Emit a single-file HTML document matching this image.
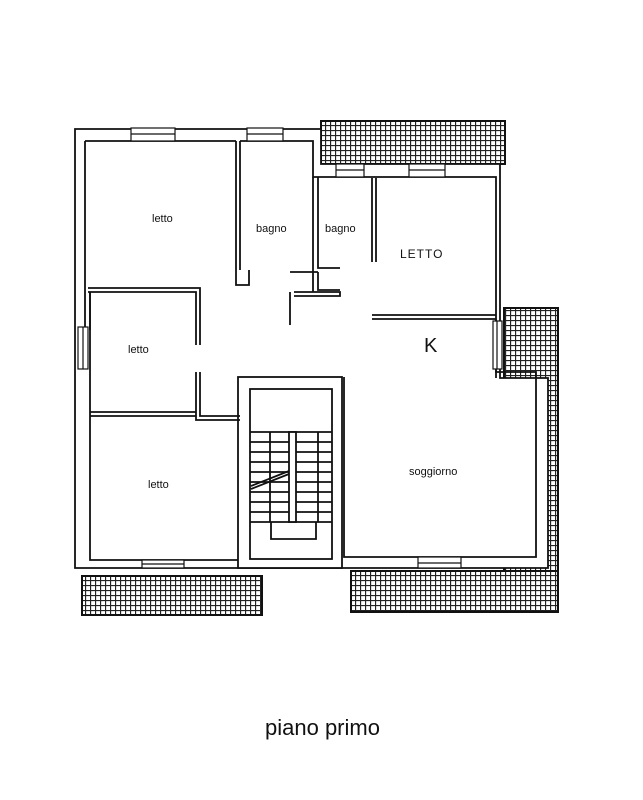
<!DOCTYPE html>
<html><head><meta charset="utf-8"><style>
html,body{margin:0;padding:0;background:#fff;}
svg{display:block;}
text{font-family:"Liberation Sans",sans-serif;fill:#111;}
</style></head><body>
<svg width="643" height="800" viewBox="0 0 643 800" xmlns="http://www.w3.org/2000/svg">
<defs>
<pattern id="h" width="5" height="5" patternUnits="userSpaceOnUse">
<rect width="5" height="5" fill="#fff"/>
<path d="M0 0.5H5M0.5 0V5" stroke="#222" stroke-width="1.3"/>
</pattern>
</defs>
<g stroke="#111" stroke-width="2">
<!-- balconies -->
<rect x="321" y="121" width="184" height="43" fill="url(#h)"/>
<rect x="504" y="308" width="54" height="304" fill="url(#h)"/>
<rect x="351" y="571" width="207" height="41" fill="url(#h)"/>
<rect x="82" y="576" width="180" height="39" fill="url(#h)"/>
</g>
<g fill="none" stroke="#111" stroke-width="1.8">
<!-- outer building outline -->
<path d="M75 129 H321 V164 H500 V378 H548 V568 H75 Z" fill="#fff"/>
<!-- inner wall lines -->
<path d="M85 141 H236 M240 141 H313 V177 H496 V372 H536 V557 H344 V377"/>
<path d="M85 141 V288 M90 292 V560 H241 V377"/>
<rect x="238" y="377" width="104" height="191" fill="#fff"/>
<rect x="250" y="389" width="82" height="170"/>
<!-- stairs -->
<path d="M250 432 H332 M250 442 H332 M250 452 H332 M250 462 H332 M250 472 H332 M250 482 H332 M250 492 H332 M250 502 H332 M250 512 H332 M250 522 H332"/>
<path d="M270 432 V522 M318 432 V522"/>
<rect x="289" y="432" width="7" height="90" fill="#fff"/>
<path d="M271 522 V539 H316 V522"/>
<path d="M251 486 L289 471 M251 489 L289 474"/>
<!-- partitions -->
<path d="M236 141 V270 M240 141 V270 M236 270 V285 H249 V270"/>
<path d="M313 177 V292 M318 177 V268 H340 M318 272 V290 H340 M290 272 H318 M290 292 V325 M294 292 H340 V296 H294"/>
<path d="M372 178 V262 M376 178 V262"/>
<path d="M88 288 H200 V345 M88 292 H196 V345"/>
<path d="M196 372 V420 H240 M200 372 V416 H240"/>
<path d="M90 412 H196 M90 416 H196"/>
<path d="M372 315 H496 M372 319 H496"/>
<path d="M496 319 V378"/>
<path d="M85 288 V330 M90 292 V330"/>
</g>
<!-- windows -->
<g fill="#fff" stroke="#111" stroke-width="1.2">
<rect x="131" y="128" width="44" height="13"/>
<rect x="247" y="128" width="36" height="13"/>
<rect x="336" y="164" width="28" height="13"/>
<rect x="409" y="164" width="36" height="13"/>
<rect x="78" y="327" width="10" height="42"/>
<rect x="493" y="321" width="9" height="48"/>
<rect x="418" y="557" width="43" height="11"/>
<rect x="142" y="560" width="42" height="8"/>
</g>
<g stroke="#111" stroke-width="1.2">
<path d="M131 134 H175 M247 134 H283 M336 170 H364 M409 170 H445 M83 327 V369 M497 321 V369 M418 563 H461 M142 564 H184"/>
</g>
<g font-size="11">
<text x="152" y="222">letto</text>
<text x="256" y="232">bagno</text>
<text x="325" y="232">bagno</text>
<text x="128" y="353">letto</text>
<text x="148" y="488">letto</text>
<text x="409" y="475">soggiorno</text>
</g>
<text x="400" y="258" font-size="12" letter-spacing="1">LETTO</text>
<text x="424" y="352" font-size="20" font-weight="normal">K</text>
<text x="265" y="735" font-size="22">piano primo</text>
</svg>
</body></html>
